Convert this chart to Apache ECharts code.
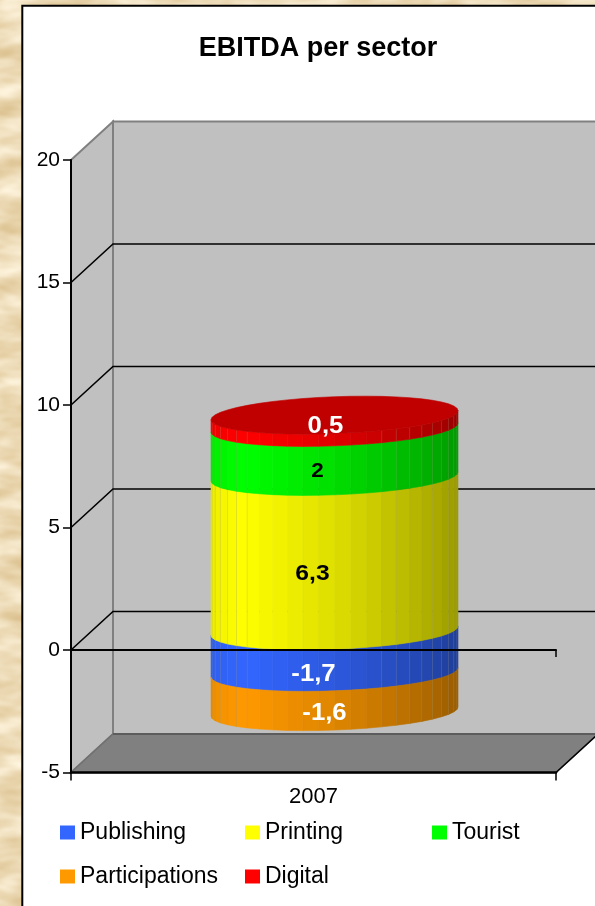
<!DOCTYPE html>
<html>
<head>
<meta charset="utf-8">
<title>EBITDA per sector</title>
<style>
  html, body { margin: 0; padding: 0; width: 595px; height: 906px; overflow: hidden; background-color: #ecdcb4; }
  #paper { position: absolute; left: 0; top: 0; width: 595px; height: 906px; }
  #chart { position: absolute; left: 0; top: 0; width: 595px; height: 906px; }
</style>
<script src="https://cdn.jsdelivr.net/npm/echarts@6/dist/echarts.min.js"></script>
</head>
<body>
<!-- parchment backdrop behind the white chart sheet -->
<svg id="paper" xmlns="http://www.w3.org/2000/svg" width="595" height="906">
  <filter id="grain" x="0" y="0" width="100%" height="100%" color-interpolation-filters="sRGB">
    <feTurbulence type="fractalNoise" baseFrequency="0.02 0.05" numOctaves="3" seed="11"/>
    <feColorMatrix type="matrix" values="0.20 0 0 0 0.83  0.30 0 0 0 0.71  0.46 0 0 0 0.49  0 0 0 0 1"/>
  </filter>
  <rect width="595" height="906" filter="url(#grain)"/>
</svg>
<div id="chart"></div>
<script>
const categories = ['2007'];
const tickValues = [-5, 0, 5, 10, 15, 20];

const publishing = [-1.7];
const printing = [6.3];
const tourist = [2];
const participations = [-1.6];
const digital = [0.5];

// Stacking order: negatives go down from zero, positives go up from zero.
const sectors = [
  { name: 'Publishing', values: publishing, color: [51, 102, 255], label: '#ffffff', size: 23, dx: -21, dy: 23 },
  { name: 'Printing', values: printing, color: [255, 255, 0], label: '#000000', size: 22, dx: -22, dy: 20 },
  { name: 'Tourist', values: tourist, color: [0, 255, 0], label: '#000000', size: 20, dx: -17, dy: 20 },
  { name: 'Participations', values: participations, color: [255, 153, 0], label: '#ffffff', size: 23, dx: -10, dy: 22 },
  { name: 'Digital', values: digital, color: [255, 0, 0], label: '#ffffff', size: 23, dx: -9, dy: 5, cap: [192, 0, 0] }
];

const FONT = '"Liberation Sans", Arial, sans-serif';
const DEPTH_X = 42;
const DEPTH_Y = 38.5;
const BAR_RATIO = 0.2546;      // cylinder radius as a share of the category band
const TILT = 14 * Math.PI / 180;
const CAP_RY = 19;
const FACET_DEG = 7.5;
const shadeStops = [[0, .60], [24, .63], [60, .75], [90, .87], [107, .92], [122, .96], [136, 1], [160, .95], [180, .91]];
const seamFacets = [1, 2, 3, 4, 5, 6, 7, 8, 9, 18, 19, 20, 21, 22, 23];

function shadeAt(deg) {
  for (let i = 1; i < shadeStops.length; i++) {
    if (deg <= shadeStops[i][0]) {
      const a = shadeStops[i - 1], b = shadeStops[i];
      return a[1] + (b[1] - a[1]) * (deg - a[0]) / (b[0] - a[0]);
    }
  }
  return shadeStops[shadeStops.length - 1][1];
}
function rgb(c, k) {
  return 'rgb(' + c.map(v => Math.round(v * k)).join(',') + ')';
}
function rim(cx, cy, r, deg) {
  const p = deg * Math.PI / 180;
  return [cx + r * Math.cos(p), cy + CAP_RY * Math.sin(p - TILT)];
}

function stackedRanges(sector) {
  return categories.map((c, i) => {
    let base = 0;
    const v = sector.values[i];
    for (const s of sectors) {
      if (s === sector) break;
      if ((s.values[i] < 0) === (v < 0)) base += s.values[i];
    }
    return [i, base, base + v];
  });
}

function renderBand(sector) {
  return function (params, api) {
    const start = api.value(1), end = api.value(2);
    const band = api.size([1, 0])[0];
    const r = band * BAR_RATIO;
    const p0 = api.coord([api.value(0), start]);
    const p1 = api.coord([api.value(0), end]);
    const cx = p0[0] + DEPTH_X / 2;
    const yA = p0[1] - DEPTH_Y / 2;
    const yB = p1[1] - DEPTH_Y / 2;
    const children = [];

    for (let d = 0, k = 0; d < 180; d += FACET_DEG, k++) {
      const fill = rgb(sector.color, shadeAt(d + FACET_DEG / 2));
      const a = rim(cx, yA, r, d), b = rim(cx, yA, r, d + FACET_DEG);
      const c = rim(cx, yB, r, d + FACET_DEG), e = rim(cx, yB, r, d);
      children.push({
        type: 'polygon',
        shape: { points: [a, b, c, e] },
        style: { fill: fill, stroke: fill, lineWidth: 0.6 }
      });
      if (seamFacets.indexOf(k) >= 0) {
        children.push({
          type: 'line',
          shape: { x1: e[0], y1: e[1], x2: a[0], y2: a[1] },
          style: { stroke: 'rgba(150,150,120,0.22)', lineWidth: 1 }
        });
      }
    }
    if (sector.cap) {
      const pts = [];
      for (let d = 0; d < 360; d += FACET_DEG) pts.push(rim(cx, Math.min(yA, yB), r, d));
      children.push({
        type: 'polygon',
        shape: { points: pts },
        style: { fill: rgb(sector.cap, 1), stroke: rgb(sector.cap, 1), lineWidth: 0.6 }
      });
    }
    children.push({
      type: 'text',
      x: cx + sector.dx,
      y: (yA + yB) / 2 + sector.dy,
      scaleX: 1.12,
      style: {
        text: String(sector.values[params.dataIndex]).replace('.', ','),
        fill: sector.label,
        font: 'bold ' + sector.size + 'px ' + FONT,
        align: 'center',
        verticalAlign: 'middle'
      }
    });
    return { type: 'group', children: children };
  };
}

function renderWalls(params, api) {
  const sys = params.coordSys;
  const left = sys.x, right = sys.x + sys.width;
  const yOf = v => api.coord([0, v])[1];
  const yTop = yOf(tickValues[tickValues.length - 1]);
  const yBot = yOf(tickValues[0]);
  const children = [
    { type: 'polygon', shape: { points: [[left, yTop], [left + DEPTH_X, yTop - DEPTH_Y], [left + DEPTH_X, yBot - DEPTH_Y], [left, yBot]] },
      style: { fill: '#c0c0c0', stroke: '#808080', lineWidth: 2 } },
    { type: 'polygon', shape: { points: [[left + DEPTH_X, yTop - DEPTH_Y], [right + DEPTH_X, yTop - DEPTH_Y], [right + DEPTH_X, yBot - DEPTH_Y], [left + DEPTH_X, yBot - DEPTH_Y]] },
      style: { fill: '#c0c0c0', stroke: '#808080', lineWidth: 2 } },
    { type: 'polygon', shape: { points: [[left, yBot], [left + DEPTH_X, yBot - DEPTH_Y], [right + DEPTH_X, yBot - DEPTH_Y], [right, yBot]] },
      style: { fill: '#808080', stroke: '#707070', lineWidth: 1.5 } },
    { type: 'line', shape: { x1: left + DEPTH_X, y1: yBot - DEPTH_Y, x2: right + DEPTH_X, y2: yBot - DEPTH_Y },
      style: { stroke: '#555555', lineWidth: 1.5 } },
    { type: 'line', shape: { x1: right, y1: yBot, x2: right + DEPTH_X, y2: yBot - DEPTH_Y },
      style: { stroke: '#000000', lineWidth: 1.5 } }
  ];
  tickValues.slice(1, -1).forEach(v => {
    const y = yOf(v);
    children.push({
      type: 'polyline',
      shape: { points: [[left, y], [left + DEPTH_X, y - DEPTH_Y], [right + DEPTH_X, y - DEPTH_Y]] },
      style: { stroke: '#000000', lineWidth: 1.6, fill: 'none' }
    });
  });
  return { type: 'group', children: children };
}

const legendSlots = [
  { name: 'Publishing', left: 60, top: 821 },
  { name: 'Printing', left: 245, top: 821 },
  { name: 'Tourist', left: 432, top: 821 },
  { name: 'Participations', left: 60, top: 865 },
  { name: 'Digital', left: 245, top: 865 }
];

const chart = echarts.init(document.getElementById('chart'), null, { renderer: 'canvas' });
chart.setOption({
  animation: false,
  backgroundColor: 'transparent',
  title: {
    text: 'EBITDA per sector',
    left: 313,
    textAlign: 'center',
    top: 30,
    textStyle: { fontFamily: FONT, fontSize: 27, fontWeight: 'bold', color: '#000000' }
  },
  graphic: [{
    type: 'rect', z: -10,
    shape: { x: 22.3, y: 5.8, width: 640, height: 960 },
    style: { fill: '#ffffff', stroke: '#000000', lineWidth: 2 }
  }],
  legend: legendSlots.map(s => ({
    data: [s.name],
    left: s.left,
    top: s.top,
    padding: 0,
    icon: 'rect',
    itemWidth: 15,
    itemHeight: 14,
    selectedMode: false,
    textStyle: { fontFamily: FONT, fontSize: 23, color: '#000000' }
  })),
  grid: { left: 71, right: 39, top: 160, bottom: 133.5 },
  xAxis: [
    {
      type: 'category', data: categories, z: 8,
      axisLine: { onZero: false, lineStyle: { color: '#000000', width: 2.5 } },
      axisTick: { show: true, length: 8, lineStyle: { color: '#000000', width: 1.5 } },
      axisLabel: { margin: 13, fontFamily: FONT, fontSize: 22, color: '#000000' },
      splitLine: { show: false }
    },
    {
      type: 'category', data: categories, z: 8, position: 'bottom',
      axisLine: { onZero: true, lineStyle: { color: '#000000', width: 2 } },
      axisTick: { show: true, length: 7, lineStyle: { color: '#000000', width: 1.5 } },
      axisLabel: { show: false },
      splitLine: { show: false }
    }
  ],
  yAxis: {
    type: 'value', min: -5, max: 20, interval: 5, z: 8,
    axisLine: { show: true, onZero: false, lineStyle: { color: '#000000', width: 2 } },
    axisTick: { show: true, length: 8, lineStyle: { color: '#000000', width: 1.5 } },
    axisLabel: { margin: 11, padding: [3, 0, 0, 0], fontFamily: FONT, fontSize: 21, color: '#000000' },
    splitLine: { show: false }
  },
  series: [
    { type: 'custom', z: 1, silent: true, renderItem: renderWalls, data: [[0]], clip: false, legendHoverLink: false }
  ].concat(sectors.map(sector => ({
    type: 'custom',
    name: sector.name,
    z: 2,
    silent: true,
    clip: false,
    itemStyle: { color: rgb(sector.color, 1) },
    renderItem: renderBand(sector),
    encode: { x: 0, y: [1, 2] },
    data: stackedRanges(sector)
  })))
});
</script>
</body>
</html>
